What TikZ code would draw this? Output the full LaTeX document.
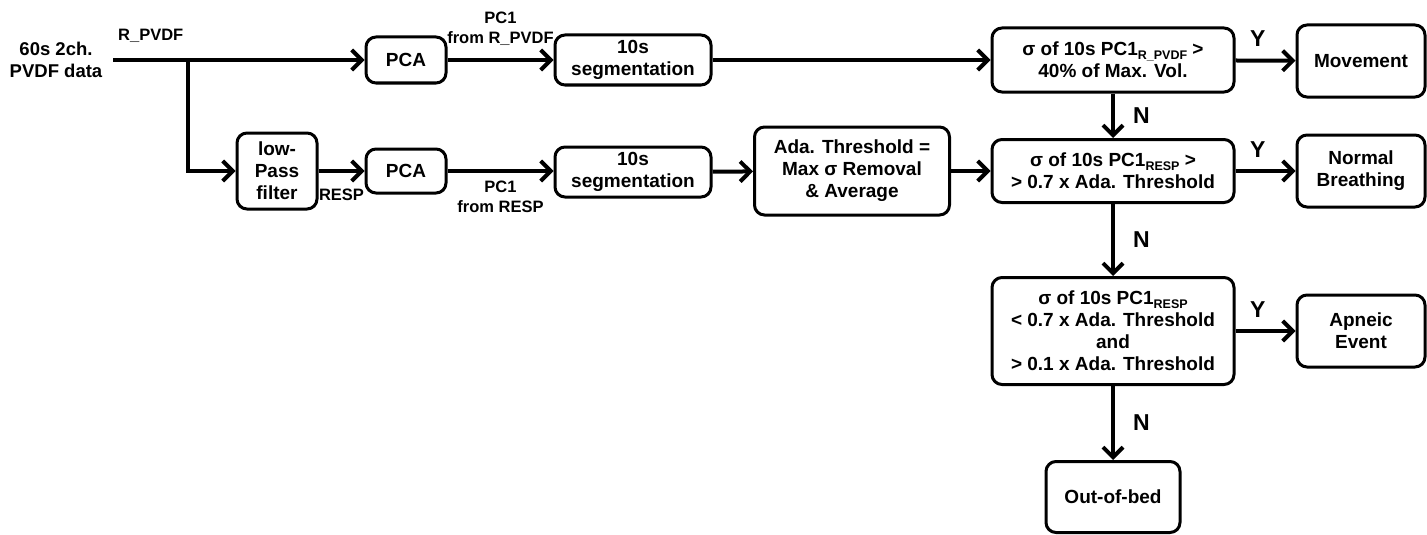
\documentclass[tikz,border=0pt]{standalone}
\usepackage{fontspec}
\setmainfont{Liberation Sans}
\usepackage{tikz}
\usetikzlibrary{arrows.meta}
\newcommand{\sbt}[1]{\raisebox{-0.35ex}{\fontsize{12.5}{12.5}\selectfont #1}}
\tikzstyle{procbox} = [rectangle, rounded corners=10pt, draw=black, line width=3pt, align=center, font=\bfseries\fontsize{19}{22}\selectfont]
\tikzstyle{wire} = [line width=4pt]
\tikzstyle{arrow} = [line width=4pt, -{Straight Barb[length=10pt,width=20pt]}]
\tikzstyle{lbl} = [font=\bfseries\fontsize{16.5}{20}\selectfont, align=center, inner sep=1pt]
\tikzstyle{yn} = [font=\bfseries\fontsize{23}{23}\selectfont, inner sep=2pt]

\begin{document}
\begin{tikzpicture}[x=1pt, y=-1pt]
\useasboundingbox (0,0) rectangle (1427,535);

% Input data
\node[align=center, inner sep=11pt, font=\bfseries\fontsize{18.5}{22}\selectfont] (in) at (56,60) {60s 2ch.\\PVDF data};
\coordinate (split) at (188,60);

% Upper branch (raw signal)
\node[procbox, minimum width=80pt, minimum height=46pt] (pcaA) at (406,60) {PCA};
\node[procbox, minimum width=156pt, minimum height=50pt] (segA) at (633,60) {10s\\segmentation};

% Lower branch (respiration)
\node[procbox, minimum width=80pt, minimum height=76pt] (lpf) at (277,171) {low-\\Pass\\filter};
\node[procbox, minimum width=80pt, minimum height=44pt] (pcaB) at (406,171) {PCA};
\node[procbox, minimum width=156pt, minimum height=50pt] (segB) at (633,172) {10s\\segmentation};
\node[procbox, minimum width=195pt, minimum height=88pt] (ada) at (852,171) {Ada. Threshold =\\Max σ Removal\\\& Average};

% Decisions
\node[procbox, minimum width=242pt, minimum height=64pt] (dec1) at (1113,60) {σ of 10s PC1\sbt{R\_PVDF} >\\40\% of Max. Vol.};
\node[procbox, minimum width=242pt, minimum height=63pt] (dec2) at (1113,171) {σ of 10s PC1\sbt{RESP} >\\> 0.7 x Ada. Threshold};
\node[procbox, minimum width=242pt, minimum height=107pt] (dec3) at (1113,331) {σ of 10s PC1\sbt{RESP}\\< 0.7 x Ada. Threshold\\and\\> 0.1 x Ada. Threshold};

% Outcomes
\node[procbox, minimum width=128pt, minimum height=72pt] (mov) at (1361,61) {Movement};
\node[procbox, minimum width=128pt, minimum height=72pt] (brth) at (1361,171) {Normal\\Breathing};
\node[procbox, minimum width=128pt, minimum height=72pt] (apn) at (1361,331) {Apneic\\Event};
\node[procbox, minimum width=134pt, minimum height=71pt] (out) at (1113,497) {Out-of-bed};

% Arrows
\draw[wire] (in.east) -- node[lbl, above=14pt] {R\_PVDF} (split);
\draw[arrow] (split) -- (pcaA);
\draw[arrow] (split) |- (lpf);
\draw[arrow] (pcaA) -- node[lbl, above=11pt] {PC1\\from R\_PVDF} (segA);
\draw[arrow] (segA) -- (dec1);
\draw[arrow] (lpf) -- node[lbl, below=15pt] {RESP} (pcaB);
\draw[arrow] (pcaB) -- node[lbl, below=7pt] {PC1\\from RESP} (pcaB -| segB.west);
\draw[arrow] (segB) -- (ada);
\draw[arrow] (ada) -- (dec2);
\draw[arrow] (dec1) -- node[yn, above=10pt, pos=0.37] {Y} (mov);
\draw[arrow] (dec2) -- node[yn, above=10pt, pos=0.37] {Y} (brth);
\draw[arrow] (dec3) -- node[yn, above=10pt, pos=0.37] {Y} (apn);
\draw[arrow] (dec1) -- node[yn, right=16pt] {N} (dec2);
\draw[arrow] (dec2) -- node[yn, right=16pt] {N} (dec3);
\draw[arrow] (dec3) -- node[yn, right=16pt] {N} (out);
\end{tikzpicture}
\end{document}
